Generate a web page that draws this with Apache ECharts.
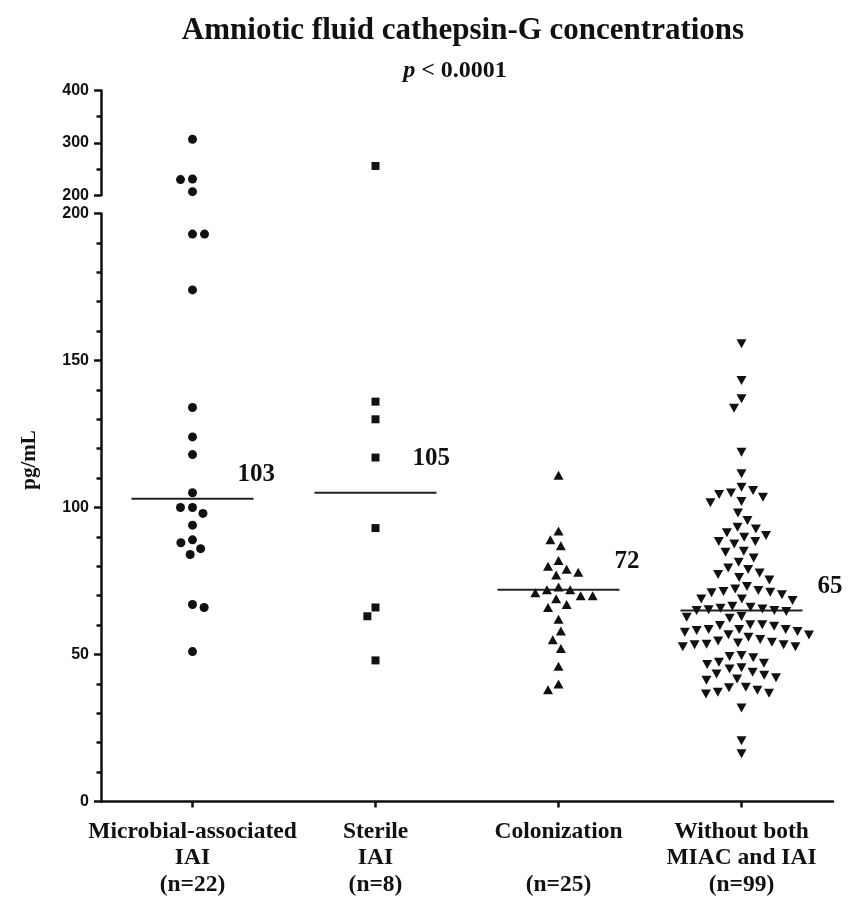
<!DOCTYPE html>
<html>
<head>
<meta charset="utf-8">
<script src="https://cdn.jsdelivr.net/npm/echarts@6.0.0/dist/echarts.min.js"></script>
<style>
  html, body { margin: 0; padding: 0; background: #fff; }
  #chart { width: 856px; height: 899px; }
</style>
</head>
<body>
<div id="chart"></div>
<script>
// ---------------- DATA ----------------
const categories = [
  'Microbial-associated\nIAI\n(n=22)',
  'Sterile\nIAI\n(n=8)',
  'Colonization\n\n(n=25)',
  'Without both\nMIAC and IAI\n(n=99)'
];
const microbialIAI = [307, 231, 230, 207, 193, 193, 174, 134, 124, 118, 105, 100, 100, 98, 94, 89, 88, 86, 84, 67, 66, 51];
const sterileIAI = [256, 136, 130, 117, 93, 66, 63, 48];
const colonization = [111, 92, 89, 87, 82, 80, 79, 78, 77, 73, 72, 72, 71, 70, 70, 69, 67, 66, 62, 58, 55, 52, 46, 40, 38];
const withoutBoth = [
  155.7, 143.2, 137, 133.8, 118.8, 111.5, 106.9, 105.8, 104.9, 104.4, 103.5, 102, 101.6, 98.1,
  95.6, 93.3, 92.7, 91.4, 90.5, 89.9, 88.4, 88.4, 87.6, 85.1, 84.8, 82.8, 81.4, 79.4, 78.9, 77.7, 77.2,
  76.2, 75.3,
  73.1, 72.3, 71.4, 71, 68.9, 68.4, 68.9, 70.3, 71.2, 71.8,
  66.1, 65.5, 65, 64.6, 62.7, 62.3, 62.9, 65, 65.2, 65.7, 66.4,
  60.1, 59.6, 58.5, 58.2, 57.8, 57.6, 58.5, 58.5, 59.9, 60.1,
  56.7, 55.9, 54.6, 53.9, 53.3, 52.6, 52.6, 53.3, 53.5, 54.2, 55.1, 56.6,
  49.3, 47.4, 46.6, 47, 48.9, 49.7, 45.5, 45.1,
  44, 42.9, 41.7, 41.2, 42.1, 43.4,
  38.7, 37.8, 36.6, 36.8, 37.2, 38.9,
  31.8, 20.7, 16.2
];
const medians = [103, 105, 72, 65];
const upperTicks = [200, 400, 100];   // min, max, interval of upper (broken) segment
const lowerTicks = [0, 200, 50];      // min, max, interval of lower segment
const breakValue = 200;

// ---------------- STYLE / LAYOUT ----------------
const groups = [microbialIAI, sterileIAI, colonization, withoutBoth];
const symbols = [
  { symbol: 'circle', size: 9, rotate: 0 },
  { symbol: 'rect', size: 8, rotate: 0 },
  { symbol: 'triangle', size: [10, 9], rotate: 0 },
  { symbol: 'triangle', size: [10, 9], rotate: 180 }
];
const labelOffsets = [[45, -24], [37, -34], [56, -28], [76, -24]];
const ink = '#111';
const serif = '"Liberation Serif", "Times New Roman", serif';
const sans = '"Liberation Sans", Arial, sans-serif';
const gridLeft = 101, gridWidth = 732;

const axisLineStyle = { show: true, onZero: false, lineStyle: { color: ink, width: 2.5 } };
const yLabel = { color: ink, fontFamily: sans, fontWeight: 'bold', fontSize: 16, margin: 12, showMinLabel: true, showMaxLabel: true };

const chart = echarts.init(document.getElementById('chart'), null, { renderer: 'canvas' });

const baseOption = {
  animation: false,
  backgroundColor: '#fff',
  grid: [
    { left: gridLeft, top: 90.5, width: gridWidth, height: 104.8 },
    { left: gridLeft, top: 213.5, width: gridWidth, height: 588 }
  ],
  xAxis: [
    { gridIndex: 0, type: 'value', min: -0.5, max: 3.5, show: false },
    {
      gridIndex: 1, type: 'category', data: categories, boundaryGap: true,
      axisLine: axisLineStyle,
      axisTick: { show: true, alignWithLabel: true, length: 6, lineStyle: { color: ink, width: 2.5 } },
      axisLabel: { interval: 0, color: ink, fontFamily: serif, fontWeight: 'bold', fontSize: 23.5, lineHeight: 26.5, margin: 17 },
      splitLine: { show: false }
    },
    { gridIndex: 1, type: 'value', min: -0.5, max: 3.5, show: false }
  ],
  yAxis: [
    {
      gridIndex: 0, type: 'value', min: upperTicks[0], max: upperTicks[1], interval: upperTicks[2],
      axisLine: axisLineStyle,
      axisTick: { show: true, length: 7, lineStyle: { color: ink, width: 2.5 } },
      minorTick: { show: true, splitNumber: 2, length: 4.5, lineStyle: { color: ink, width: 2.5 } },
      splitLine: { show: false }, minorSplitLine: { show: false },
      axisLabel: yLabel
    },
    {
      gridIndex: 1, type: 'value', min: lowerTicks[0], max: lowerTicks[1], interval: lowerTicks[2],
      axisLine: axisLineStyle,
      axisTick: { show: true, length: 7, lineStyle: { color: ink, width: 2.5 } },
      minorTick: { show: true, splitNumber: 5, length: 4.5, lineStyle: { color: ink, width: 2.5 } },
      splitLine: { show: false }, minorSplitLine: { show: false },
      axisLabel: yLabel
    }
  ],
  series: []
};
chart.setOption(baseOption);

// pixel positions from the library's own scales
function pixY(v) {
  return v > breakValue
    ? chart.convertToPixel({ xAxisIndex: 0, yAxisIndex: 0 }, [0, v])[1]
    : chart.convertToPixel({ xAxisIndex: 2, yAxisIndex: 1 }, [0, v])[1];
}
const unitPx = chart.convertToPixel({ xAxisIndex: 2 }, 1) - chart.convertToPixel({ xAxisIndex: 2 }, 0);

// simple beeswarm: place each point at the smallest horizontal offset without overlap
function swarm(ys, D) {
  const order = ys.map((y, i) => i).sort((a, b) => ys[a] - ys[b]);
  const placed = [];
  const dx = new Array(ys.length).fill(0);
  let flip = 1;
  for (const i of order) {
    const y = ys[i];
    const near = placed.filter(p => Math.abs(p.y - y) < D);
    const cands = [0];
    for (const p of near) {
      const h = Math.sqrt(D * D - (p.y - y) * (p.y - y));
      cands.push(p.x + h, p.x - h);
    }
    cands.sort((a, b) => (Math.abs(a) - Math.abs(b)) || (flip * (a - b)));
    for (const c of cands) {
      if (near.every(p => (p.x - c) * (p.x - c) + (p.y - y) * (p.y - y) >= D * D - 1e-6)) { dx[i] = c; break; }
    }
    if (dx[i] !== 0) flip = -flip;
    placed.push({ x: dx[i], y: y });
  }
  return dx;
}

const series = [];
groups.forEach((vals, g) => {
  const ys = vals.map(pixY);
  const dx = swarm(ys, 12);
  const upper = [], lower = [];
  vals.forEach((v, k) => {
    const pt = [g + dx[k] / unitPx, v];
    (v > breakValue ? upper : lower).push(pt);
  });
  const sym = symbols[g];
  const common = {
    type: 'scatter', symbol: sym.symbol, symbolSize: sym.size, symbolRotate: sym.rotate,
    itemStyle: { color: ink, opacity: 1 }, silent: true, clip: false
  };
  if (lower.length) series.push(Object.assign({}, common, { xAxisIndex: 2, yAxisIndex: 1, data: lower }));
  if (upper.length) series.push(Object.assign({}, common, { xAxisIndex: 0, yAxisIndex: 0, data: upper }));
});

series.push({
  type: 'custom', xAxisIndex: 2, yAxisIndex: 1, silent: true, clip: false,
  data: medians.map((m, i) => [i, m]),
  renderItem: function (params, api) {
    const i = api.value(0), m = api.value(1);
    const p0 = api.coord([i - 1 / 3, m]);
    const p1 = api.coord([i + 1 / 3, m]);
    const c = api.coord([i, m]);
    const off = labelOffsets[params.dataIndex];
    return {
      type: 'group',
      children: [
        { type: 'line', shape: { x1: p0[0], y1: p0[1], x2: p1[0], y2: p1[1] }, style: { stroke: '#222', lineWidth: 2 } },
        {
          type: 'text',
          style: {
            text: String(medians[params.dataIndex]), x: c[0] + off[0], y: c[1] + off[1],
            fill: ink, font: 'bold 25px ' + serif, align: 'left', verticalAlign: 'middle',
            textAlign: 'left', textVerticalAlign: 'middle'
          }
        }
      ]
    };
  }
});

chart.setOption({
  series: series,
  graphic: [
    {
      type: 'text', x: 463, y: 31,
      style: { text: 'Amniotic fluid cathepsin-G concentrations', fill: ink, font: 'bold 31px ' + serif, align: 'center', verticalAlign: 'middle', textAlign: 'center', textVerticalAlign: 'middle' }
    },
    {
      type: 'text', x: 455, y: 71,
      style: {
        text: '{i|p} < 0.0001', fill: ink, font: 'bold 24px ' + serif, align: 'center', verticalAlign: 'middle', textAlign: 'center', textVerticalAlign: 'middle',
        rich: { i: { fontStyle: 'italic', fontWeight: 'bold', fontSize: 24, fontFamily: serif, fill: ink } }
      }
    },
    {
      type: 'text', x: 30, y: 460, rotation: Math.PI / 2,
      style: { text: 'pg/mL', fill: ink, font: 'bold 21px ' + serif, align: 'center', verticalAlign: 'middle', textAlign: 'center', textVerticalAlign: 'middle' }
    }
  ]
});
</script>
</body>
</html>
